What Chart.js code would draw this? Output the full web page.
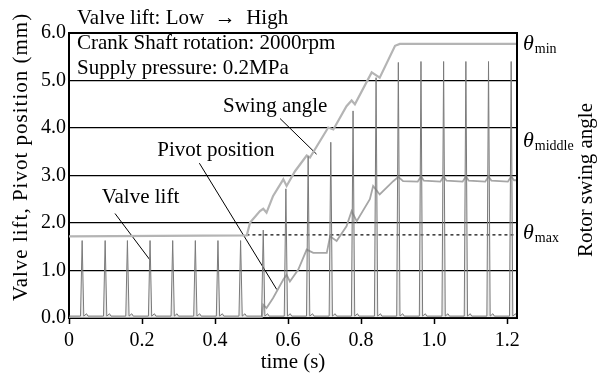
<!DOCTYPE html>
<html>
<head>
<meta charset="utf-8">
<script src="https://cdn.jsdelivr.net/npm/chart.js@4.4.1/dist/chart.umd.min.js"></script>
<style>
  html, body { margin: 0; padding: 0; background: #fff; }
</style>
</head>
<body>
<canvas id="chart" width="607" height="374"></canvas>
<script>
// axis ticks
const timeTicks = [0, 0.2, 0.4, 0.6, 0.8, 1.0, 1.2];
const liftTicks = [0, 1, 2, 3, 4, 5, 6];
const timeMax = 1.227;

// valve lift peaks (s, mm)
const peakTimes = [0.036, 0.099, 0.160, 0.222, 0.284, 0.346, 0.408, 0.470, 0.532, 0.594,
                   0.655, 0.717, 0.778, 0.841, 0.902, 0.964, 1.026, 1.087, 1.149, 1.211];
const peakLift = [1.63, 1.63, 1.63, 1.63, 1.63, 1.63, 1.63, 1.63, 1.85, 2.72,
                  3.40, 3.70, 4.36, 5.06, 5.38, 5.40, 5.40, 5.40, 5.40, 5.40];

// swing angle trace
const swingT = [0, 0.487, 0.496, 0.523, 0.532, 0.541, 0.559, 0.587, 0.596, 0.619, 0.651, 0.660,
                0.710, 0.724, 0.760, 0.774, 0.783, 0.829, 0.851, 0.893, 0.906, 1.227];
const swingV = [1.72, 1.74, 2.01, 2.25, 2.30, 2.22, 2.57, 2.92, 2.78, 3.09, 3.42, 3.38,
                4.01, 3.97, 4.46, 4.58, 4.50, 5.17, 5.06, 5.73, 5.77, 5.77];

// pivot position trace
const pivotT = [0, 0.528, 0.532, 0.541, 0.559, 0.587, 0.596, 0.605, 0.628, 0.651, 0.669, 0.706,
                0.715, 0.733, 0.760, 0.774, 0.788, 0.824, 0.833, 0.851, 0.888, 0.902, 0.915,
                0.955, 0.964, 0.972, 1.017, 1.026, 1.034, 1.078, 1.087, 1.095,
                1.140, 1.149, 1.157, 1.202, 1.211, 1.219, 1.227];
const pivotV = [0, 0, 0.28, 0.21, 0.42, 0.81, 0.91, 0.77, 1.02, 1.44, 1.37, 1.37,
                1.72, 1.62, 1.93, 2.25, 2.04, 2.50, 2.78, 2.60, 2.88, 2.97, 2.88,
                2.87, 2.98, 2.89, 2.87, 2.98, 2.89, 2.87, 2.98, 2.89,
                2.87, 2.98, 2.89, 2.87, 2.98, 2.90, 2.90];

// theta_max reference level (dashed) and its start
const thetaMaxLevel = 1.75;
const dashStart = 0.486;

// right side labels: swing angle levels
const thetaLevels = [5.77, 3.73, 1.79];
const thetaNames = ["min", "middle", "max"];

const FONT = '"Liberation Serif", "Times New Roman", serif';

// valve lift line: each peak as a narrow triangle
const liftData = [{ x: 0, y: 0.04 }];
peakTimes.forEach((t, i) => {
  liftData.push({ x: t - 0.0045, y: 0.04 });
  liftData.push({ x: t, y: peakLift[i] });
  liftData.push({ x: t + 0.0045, y: 0.04 });
  liftData.push({ x: t + 0.012, y: 0.09 });
  liftData.push({ x: t + 0.016, y: 0.04 });
});
liftData.push({ x: timeMax, y: 0.04 });

const toPts = (xs, ys) => xs.map((x, i) => ({ x: x, y: ys[i] }));

// leader lines for the trace names (data units)
const leaders = [
  [{ x: 0.578, y: 4.20 }, { x: 0.678, y: 3.45 }],
  [{ x: 0.357, y: 3.26 }, { x: 0.569, y: 0.60 }],
  [{ x: 0.126, y: 2.20 }, { x: 0.222, y: 1.22 }]
];
const notes = [
  { text: "Swing angle", x: 0.4218, y: 4.33 },
  { text: "Pivot position", x: 0.2418, y: 3.41 },
  { text: "Valve lift", x: 0.0896, y: 2.43 }
];

const textPlugin = {
  id: "textPlugin",
  afterDraw(chart) {
    const { ctx, chartArea: a, scales } = chart;
    const x = scales.x, y = scales.y;
    ctx.save();
    // top and right frame
    ctx.strokeStyle = "#000";
    ctx.lineWidth = 2;
    ctx.beginPath();
    ctx.moveTo(a.left - 1, a.top);
    ctx.lineTo(a.right, a.top);
    ctx.lineTo(a.right, a.bottom + 1);
    ctx.stroke();

    ctx.fillStyle = "#000";
    ctx.textBaseline = "alphabetic";
    ctx.textAlign = "left";
    ctx.font = "21px " + FONT;
    ctx.fillText("Valve lift: Low  \u2192  High", a.left + 8, 23.5);
    ctx.fillText("Crank Shaft rotation: 2000rpm", a.left + 8, 48.5);
    ctx.fillText("Supply pressure: 0.2MPa", a.left + 8, 73.5);

    notes.forEach(n => {
      ctx.fillText(n.text, x.getPixelForValue(n.x), y.getPixelForValue(n.y));
    });

    // x title
    ctx.textAlign = "center";
    ctx.fillText("time (s)", (a.left + a.right) / 2, 368);

    // left title
    ctx.save();
    ctx.translate(27, 157);
    ctx.rotate(-Math.PI / 2);
    ctx.textAlign = "center";
    ctx.letterSpacing = "1px";
    ctx.fillText("Valve lift, Pivot position (mm)", 0, 0);
    ctx.restore();

    // right title
    ctx.save();
    ctx.translate(592, 180);
    ctx.rotate(-Math.PI / 2);
    ctx.textAlign = "center";
    ctx.fillText("Rotor swing angle", 0, 0);
    ctx.restore();

    // theta labels
    ctx.textAlign = "left";
    thetaLevels.forEach((v, i) => {
      const py = y.getPixelForValue(v);
      ctx.font = "italic 22px " + FONT;
      ctx.fillText("\u03B8", a.right + 6, py + 6);
      const w = ctx.measureText("\u03B8").width;
      ctx.font = "14px " + FONT;
      ctx.fillText(thetaNames[i], a.right + 7 + w, py + 9);
    });
    ctx.restore();
  }
};

const leaderSets = leaders.map(pts => ({
  data: pts,
  borderColor: "#000",
  borderWidth: 1,
  pointRadius: 0,
  showLine: true
}));

new Chart(document.getElementById("chart"), {
  type: "scatter",
  data: {
    datasets: [
      {
        data: liftData,
        borderColor: "#7a7a7a",
        backgroundColor: "rgba(130,130,130,0.18)",
        fill: "origin",
        borderWidth: 1,
        pointRadius: 0,
        showLine: true
      },
      {
        data: toPts(pivotT, pivotV),
        borderColor: "#a6a6a6",
        borderWidth: 1.8,
        pointRadius: 0,
        showLine: true
      },
      {
        data: toPts(swingT, swingV),
        borderColor: "#b4b4b4",
        borderWidth: 2.2,
        pointRadius: 0,
        showLine: true
      },
      {
        data: [{ x: dashStart, y: thetaMaxLevel }, { x: timeMax, y: thetaMaxLevel }],
        borderColor: "#000",
        borderWidth: 1.2,
        borderDash: [3, 3],
        pointRadius: 0,
        showLine: true
      },
      ...leaderSets
    ]
  },
  options: {
    responsive: false,
    animation: false,
    layout: { padding: { top: 33, right: 90, left: 0, bottom: 0 } },
    plugins: { legend: { display: false }, tooltip: { enabled: false } },
    scales: {
      x: {
        type: "linear",
        min: 0,
        max: timeMax,
        afterBuildTicks: s => { s.ticks = timeTicks.map(v => ({ value: v })); },
        afterFit: s => { s.height = 56; },
        ticks: {
          color: "#000",
          font: { family: FONT, size: 20 },
          padding: 5,
          maxRotation: 0,
          callback: v => (v === 0 ? "0" : v.toFixed(1))
        },
        grid: { drawOnChartArea: false, drawTicks: true, tickLength: 6, tickColor: "#000", tickWidth: 1.5 },
        border: { color: "#000", width: 2 }
      },
      y: {
        min: 0,
        max: 6,
        afterBuildTicks: s => { s.ticks = liftTicks.map(v => ({ value: v })); },
        afterFit: s => { s.width = 69; },
        ticks: {
          color: "#000",
          font: { family: FONT, size: 20 },
          padding: 3,
          callback: v => v.toFixed(1)
        },
        grid: { color: "#000", lineWidth: 1.2, drawTicks: false },
        border: { color: "#000", width: 2 }
      }
    }
  },
  plugins: [textPlugin]
});
</script>
</body>
</html>
